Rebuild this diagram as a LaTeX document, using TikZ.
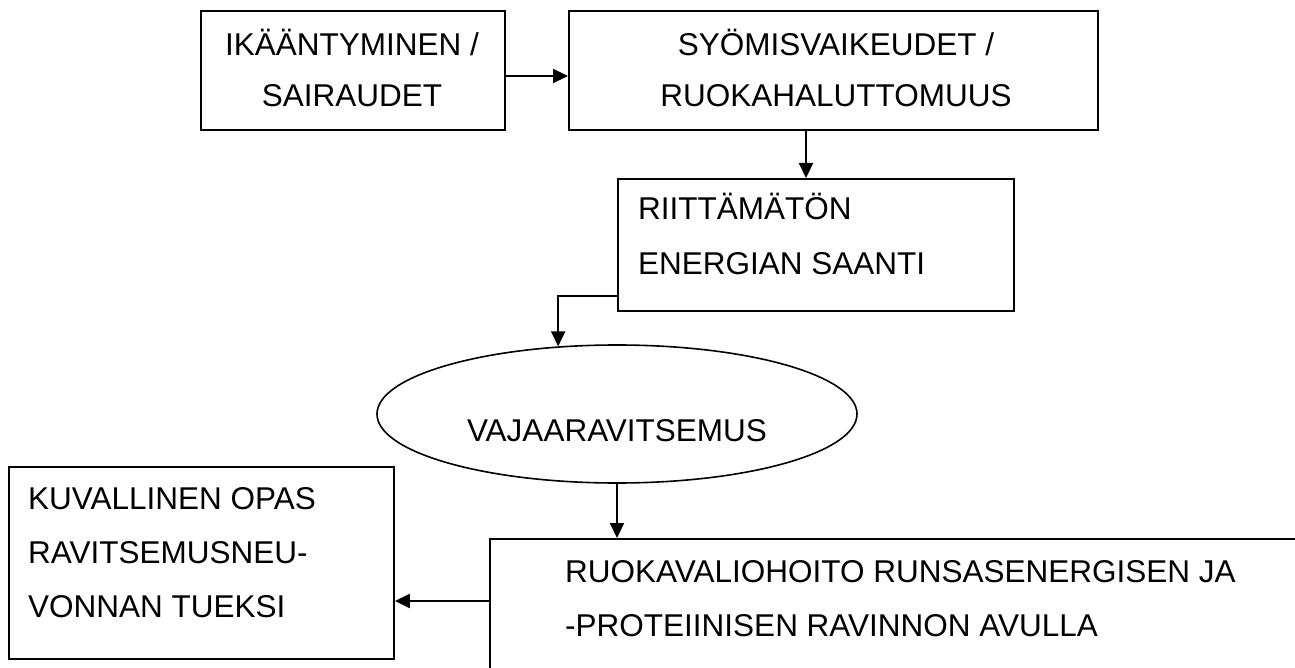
\documentclass[tikz,border=0pt]{standalone}
\usepackage{fontspec}
\setmainfont{Liberation Sans}
\usetikzlibrary{arrows.meta,shapes.geometric}
\begin{document}
\begin{tikzpicture}[x=1pt,y=-1pt,
  box/.style={draw,line width=1.9pt,rectangle,inner sep=0pt,anchor=north west},
  oval/.style={draw,line width=1.6pt,ellipse,inner sep=0pt},
  txt/.style={inner sep=0pt,font=\fontsize{31.5}{37}\selectfont},
  arr/.style={line width=2.2pt,-{Triangle[length=15pt,width=14pt]}}]
\useasboundingbox (0,0) rectangle (1295,668);
% boxes
\node[box,minimum width=304pt,minimum height=119pt] (a) at (200,10) {};
\node[box,minimum width=529pt,minimum height=119pt] (b) at (568,10) {};
\node[box,minimum width=396pt,minimum height=132pt] (c) at (617,178) {};
\node[oval,minimum width=480pt,minimum height=138pt] (d) at (617,414) {};
\node[box,minimum width=385pt,minimum height=192pt] (f) at (8,466) {};
\node[box,minimum width=830pt,minimum height=150pt] (e) at (489,538) {};
% texts
\node[txt,anchor=base] (ta1) at (352,56) {IKÄÄNTYMINEN /};
\node[txt,anchor=base] (ta2) at (352,107) {SAIRAUDET};
\node[txt,anchor=base] (tb1) at (836,56) {SYÖMISVAIKEUDET /};
\node[txt,anchor=base] (tb2) at (836,107) {RUOKAHALUTTOMUUS};
\node[txt,anchor=base west] (tc1) at (638,220) {RIITTÄMÄTÖN};
\node[txt,anchor=base west] (tc2) at (638,274) {ENERGIAN SAANTI};
\node[txt,anchor=base] (td1) at (617,441) {VAJAARAVITSEMUS};
\node[txt,anchor=base west] (tf1) at (28,509) {KUVALLINEN OPAS};
\node[txt,anchor=base west] (tf2) at (28,563) {RAVITSEMUSNEU-};
\node[txt,anchor=base west] (tf3) at (28,617) {VONNAN TUEKSI};
\node[txt,anchor=base west] (te1) at (565,582) {RUOKAVALIOHOITO RUNSASENERGISEN JA};
\node[txt,anchor=base west] (te2) at (565,636) {-PROTEIINISEN RAVINNON AVULLA};
% helper coordinates
\coordinate (yab) at (0,76);
\coordinate (xbc) at (806,0);
\coordinate (yef) at (0,601);
% connectors
\draw[arr] (a.east |- yab) -- (b.west |- yab);
\draw[arr] (b.south -| xbc) -- (c.north -| xbc);
\draw[arr] ([yshift=-51pt]c.west) -| (d.131.4);
\draw[arr] (d.south) -- (d.south |- e.north);
\draw[arr] (e.west |- yef) -- (f.east |- yef);
\end{tikzpicture}
\end{document}
